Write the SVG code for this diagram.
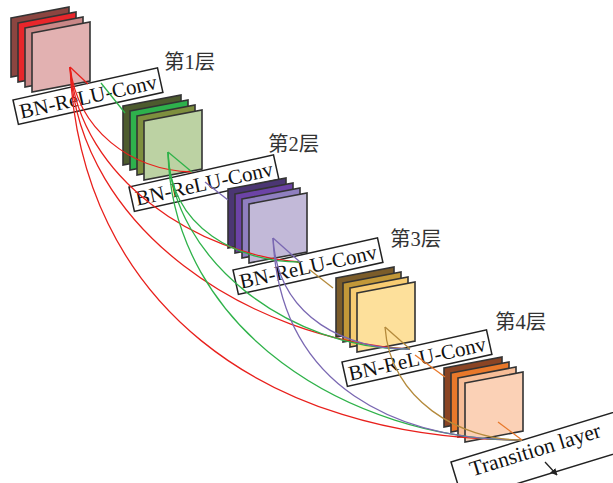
<svg xmlns="http://www.w3.org/2000/svg" xmlns:xlink="http://www.w3.org/1999/xlink" width="613" height="483" viewBox="0 0 613 483">
<style>
.sh{stroke:#333;stroke-width:1.6;stroke-linejoin:miter}
.box{fill:#fff;stroke:#222;stroke-width:1.5}
.bt{font-family:"Liberation Serif","Times New Roman",serif;font-size:21px;fill:#111}
.lt{font-family:"Liberation Serif","Noto Sans CJK SC",serif;font-size:20.5px;fill:#333}
.c{fill:none;stroke-width:1.3}
.r{stroke:#e8201c}.g{stroke:#2fb24a}.p{stroke:#7a68b2}.b{stroke:#b48a3c}.o{stroke:#e8782a}
</style>
<defs>
<polygon id="sheet" points="0,0 58,-11 58,48 0,59"/>
<marker id="ah" viewBox="0 0 10 10" refX="9" refY="5" markerWidth="7" markerHeight="7" orient="auto" markerUnits="userSpaceOnUse">
<path d="M0,0 L10,5 L0,10 z" fill="#222"/>
</marker>
</defs>
<rect width="613" height="483" fill="#fff"/>

<g id="layer1">
<use href="#sheet" class="sh" x="11" y="18" fill="#8b4540"/>
<use href="#sheet" class="sh" x="18" y="23" fill="#e8262b"/>
<use href="#sheet" class="sh" x="25" y="28" fill="#c98787"/>
<use href="#sheet" class="sh" x="32" y="33" fill="#e2b1b1"/>
</g>
<g id="label1" transform="translate(13,100) rotate(-12.5)">
<rect class="box" width="148" height="25"/>
<text class="bt" x="74" y="20" text-anchor="middle">BN-ReLU-Conv</text>
</g>
<text id="cap1" class="lt" x="164" y="69">第1层</text>

<g id="layer2">
<use href="#sheet" class="sh" x="123" y="106" fill="#4d5b2e"/>
<use href="#sheet" class="sh" x="130" y="111" fill="#2eb14c"/>
<use href="#sheet" class="sh" x="137" y="116" fill="#7e8f3e"/>
<use href="#sheet" class="sh" x="144" y="121" fill="#bcd2a3"/>
</g>
<g id="label2" transform="translate(129,187) rotate(-12.5)">
<rect class="box" width="148" height="25"/>
<text class="bt" x="74" y="20" text-anchor="middle">BN-ReLU-Conv</text>
</g>
<text id="cap2" class="lt" x="268" y="151">第2层</text>

<g id="layer3">
<use href="#sheet" class="sh" x="228" y="189" fill="#4b3673"/>
<use href="#sheet" class="sh" x="235" y="194" fill="#6c43a6"/>
<use href="#sheet" class="sh" x="242" y="199" fill="#8f7fbf"/>
<use href="#sheet" class="sh" x="249" y="204" fill="#c2b9d8"/>
</g>
<g id="label3" transform="translate(233,270) rotate(-12.5)">
<rect class="box" width="148" height="25"/>
<text class="bt" x="74" y="20" text-anchor="middle">BN-ReLU-Conv</text>
</g>
<text id="cap3" class="lt" x="390" y="246">第3层</text>

<g id="layer4">
<use href="#sheet" class="sh" x="336" y="278" fill="#7b5c2a"/>
<use href="#sheet" class="sh" x="343" y="283" fill="#c29838"/>
<use href="#sheet" class="sh" x="350" y="288" fill="#f7cc72"/>
<use href="#sheet" class="sh" x="357" y="293" fill="#fde09b"/>
</g>
<g id="label4" transform="translate(342,362) rotate(-12.5)">
<rect class="box" width="148" height="25"/>
<text class="bt" x="74" y="20" text-anchor="middle">BN-ReLU-Conv</text>
</g>
<text id="cap4" class="lt" x="495" y="329">第4层</text>

<g id="transition">
<use href="#sheet" class="sh" x="444" y="368" fill="#8a4424"/>
<use href="#sheet" class="sh" x="451" y="373" fill="#e8782a"/>
<use href="#sheet" class="sh" x="458" y="378" fill="#f7bd97"/>
<use href="#sheet" class="sh" x="465" y="383" fill="#fbd1b6"/>
</g>
<g id="label5" transform="translate(451,462) rotate(-17)">
<rect class="box" width="200" height="40"/>
<text class="bt" x="16" y="20" style="font-size:21.5px">Transition layer</text>
</g>

<g id="connectors">
<path class="c r" d="M70,67 L88,84"/>
<path class="c r" d="M70,67 C78,130 130,170 192,172"/>
<path class="c r" d="M70,67 C80,180 200,255 300,262"/>
<path class="c r" d="M70,67 C80,230 250,340 410,349"/>
<path class="c r" d="M70,67 C80,300 260,440 522,440"/>
<path class="c g" d="M101,83 L125,113"/>
<path class="c g" d="M168,152 L192,172"/>
<path class="c g" d="M168,152 C170,230 240,262 300,262"/>
<path class="c g" d="M168,152 C172,260 290,350 410,349"/>
<path class="c g" d="M168,152 C172,330 350,440 522,440"/>
<path class="c p" d="M205,182 L228,200"/>
<path class="c p" d="M273,238 L300,262"/>
<path class="c p" d="M273,238 C278,320 350,350 410,349"/>
<path class="c p" d="M273,238 C280,390 400,440 522,440"/>
<path class="c b" d="M310,270 L333,288"/>
<path class="c b" d="M385,327 L410,349"/>
<path class="c b" d="M385,327 C390,400 460,440 522,440"/>
<path class="c o" d="M415,355 L445,377"/>
<path class="c o" d="M498,422 L522,440"/>
<path d="M545,462 L557,475" fill="none" stroke="#222" stroke-width="1.3" marker-end="url(#ah)"/>
</g>
</svg>
